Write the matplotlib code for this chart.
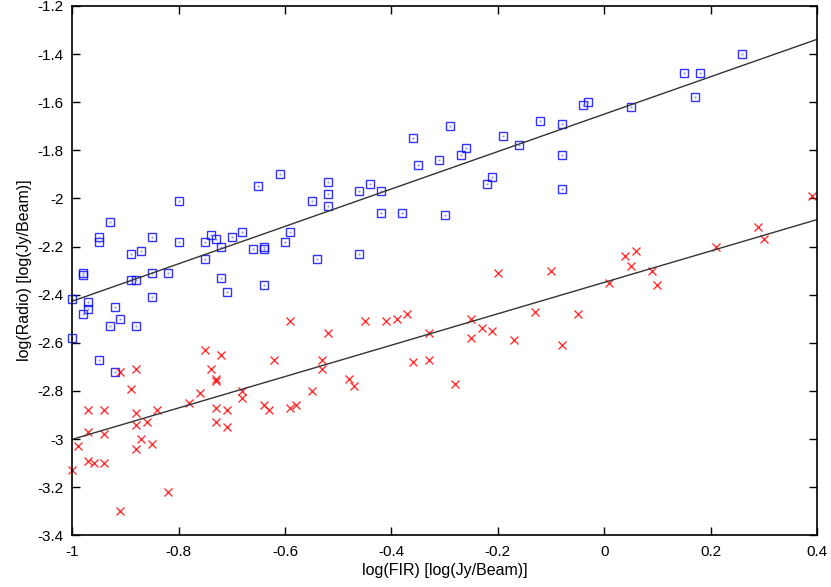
import numpy as np
import matplotlib
matplotlib.use('Agg')
import matplotlib.pyplot as plt
from matplotlib.ticker import FuncFormatter

plt.rcParams['font.family'] = ['Liberation Sans', 'DejaVu Sans']

# blue squares (upper sample)
blue_x = [-1.00, -1.00, -0.98, -0.98, -0.97, -0.97, -0.98, -0.95, -0.95, -0.93,
          -0.95, -0.92, -0.93, -0.91, -0.89, -0.87, -0.89, -0.88, -0.88, -0.92,
          -0.85, -0.85, -0.85, -0.82, -0.80, -0.80, -0.75, -0.74, -0.73, -0.72,
          -0.75, -0.72, -0.71, -0.70, -0.68, -0.66, -0.65, -0.64, -0.64, -0.61,
          -0.60, -0.59, -0.64, -0.54, -0.55, -0.52, -0.52, -0.52, -0.46, -0.44,
          -0.42, -0.42, -0.38, -0.46, -0.36, -0.35, -0.31, -0.29, -0.30, -0.27,
          -0.26, -0.22, -0.21, -0.19, -0.16, -0.12, -0.08, -0.08, -0.08, -0.04,
          -0.03, 0.05, 0.15, 0.18, 0.17, 0.26]
blue_y = [-2.42, -2.58, -2.31, -2.32, -2.43, -2.46, -2.48, -2.16, -2.18, -2.10,
          -2.67, -2.45, -2.53, -2.50, -2.23, -2.22, -2.34, -2.34, -2.53, -2.72,
          -2.16, -2.31, -2.41, -2.31, -2.01, -2.18, -2.18, -2.15, -2.17, -2.20,
          -2.25, -2.33, -2.39, -2.16, -2.14, -2.21, -1.95, -2.20, -2.21, -1.90,
          -2.18, -2.14, -2.36, -2.25, -2.01, -1.93, -1.98, -2.03, -1.97, -1.94,
          -1.97, -2.06, -2.06, -2.23, -1.75, -1.86, -1.84, -1.70, -2.07, -1.82,
          -1.79, -1.94, -1.91, -1.74, -1.78, -1.68, -1.69, -1.82, -1.96, -1.61,
          -1.60, -1.62, -1.48, -1.48, -1.58, -1.40]

# red crosses (lower sample)
red_x = [-0.99, -1.00, -0.97, -0.97, -0.97, -0.96, -0.94, -0.94, -0.94, -0.91,
         -0.91, -0.88, -0.89, -0.88, -0.88, -0.88, -0.87, -0.86, -0.85, -0.84,
         -0.82, -0.78, -0.76, -0.75, -0.72, -0.74, -0.73, -0.73, -0.73, -0.73,
         -0.71, -0.71, -0.68, -0.68, -0.64, -0.63, -0.59, -0.52, -0.62, -0.53,
         -0.53, -0.55, -0.59, -0.58, -0.48, -0.47, -0.45, -0.41, -0.39, -0.37,
         -0.33, -0.36, -0.33, -0.28, -0.20, -0.10, -0.25, -0.25, -0.23, -0.21,
         -0.17, -0.13, -0.08, -0.05, 0.01, 0.04, 0.06, 0.05, 0.09, 0.10,
         0.21, 0.29, 0.30, 0.39]
red_y = [-3.03, -3.13, -2.88, -2.97, -3.09, -3.10, -2.88, -2.98, -3.10, -2.72,
         -3.30, -2.71, -2.79, -2.89, -2.94, -3.04, -3.00, -2.93, -3.02, -2.88,
         -3.22, -2.85, -2.81, -2.63, -2.65, -2.71, -2.75, -2.76, -2.87, -2.93,
         -2.88, -2.95, -2.80, -2.83, -2.86, -2.88, -2.51, -2.56, -2.67, -2.67,
         -2.71, -2.80, -2.87, -2.86, -2.75, -2.78, -2.51, -2.51, -2.50, -2.48,
         -2.56, -2.68, -2.67, -2.77, -2.31, -2.30, -2.50, -2.58, -2.54, -2.55,
         -2.59, -2.47, -2.61, -2.48, -2.35, -2.24, -2.22, -2.28, -2.30, -2.36,
         -2.20, -2.12, -2.17, -1.99]

# fitted lines (slope, intercept)
blue_fit = [0.777, -1.650]
red_fit = [0.652, -2.349]

xticks = [-1, -0.8, -0.6, -0.4, -0.2, 0, 0.2, 0.4]
yticks = [-3.4, -3.2, -3, -2.8, -2.6, -2.4, -2.2, -2, -1.8, -1.6, -1.4, -1.2]

fig = plt.figure(figsize=(8.31, 5.87), dpi=100)
ax = fig.add_axes([0.087, 0.088, 0.896, 0.902])

ax.plot(blue_x, blue_y, 's', ms=6, mfc='none', mec='#0000ff', mew=1.0,
        alpha=0.8, clip_on=False)
# gnuplot leaves a tiny dot in the middle of each square
ax.plot(blue_x, blue_y, '.', ms=1, color='#8888ff', clip_on=False)
ax.plot(red_x, red_y, 'x', ms=6, color='#ff0000', mew=1.0, alpha=0.8,
        clip_on=False)

xx = np.array([-1, 0.4])
ax.plot(xx, np.polyval(blue_fit, xx), color='#333333', lw=1.0)
ax.plot(xx, np.polyval(red_fit, xx), color='#333333', lw=1.0)

ax.set_xlim(-1, 0.4)
ax.set_ylim(-3.4, -1.2)
ax.set_xticks(xticks)
ax.set_yticks(yticks)
fmt = FuncFormatter(lambda v, p: ('%g' % round(v, 2)).replace('\u2212', '-'))
ax.xaxis.set_major_formatter(fmt)
ax.yaxis.set_major_formatter(fmt)
ax.tick_params(direction='in', length=5.5, width=1, top=True, right=True,
               labelsize=11, colors='black', pad=6)
ax.tick_params(axis='x', pad=7)
for s in ax.spines.values():
    s.set_linewidth(1.2)

ax.set_xlabel('log(FIR) [log(Jy/Beam)]', fontsize=11.5, labelpad=3)
ax.set_ylabel('log(Radio) [log(Jy/Beam)]', fontsize=11.5, labelpad=4)

fig.savefig('out.png', dpi=100)
